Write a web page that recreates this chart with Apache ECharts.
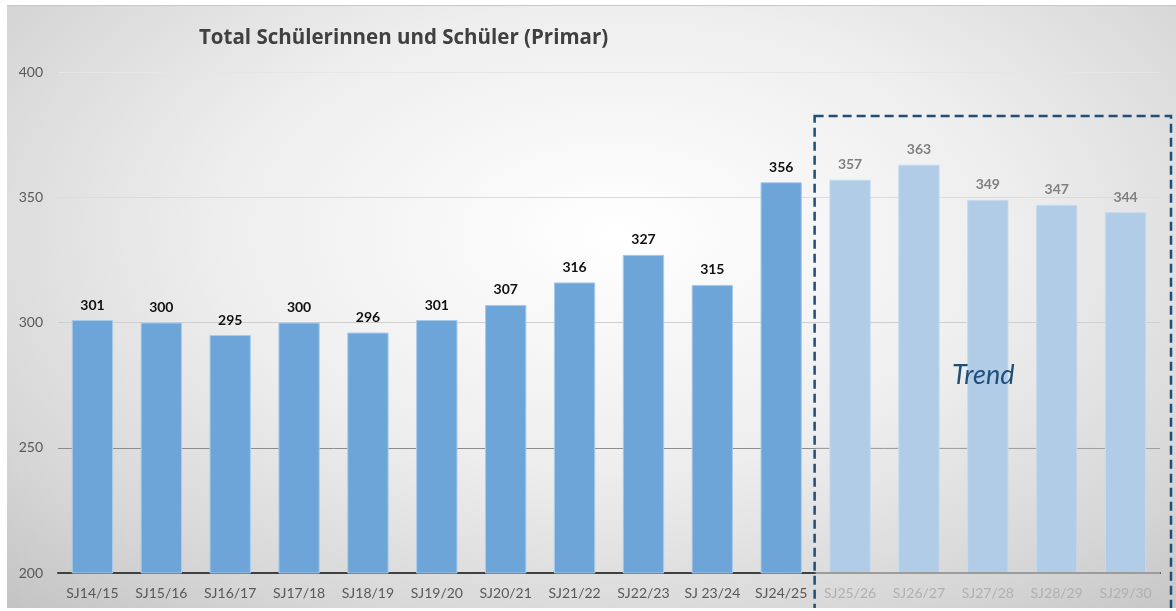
<!DOCTYPE html>
<html>
<head>
<meta charset="utf-8">
<script src="https://cdn.jsdelivr.net/npm/echarts@6/dist/echarts.min.js"></script>
<style>
  html, body { margin: 0; padding: 0; background: #fff; }
  #chart {
    position: absolute; left: 7px; top: 5px; width: 1169px; height: 603px;
    border-top: 1px solid #c8c8c8;
    box-sizing: border-box;
    background: radial-gradient(ellipse 75% 85% at 52% 38%, #ffffff 0%, #eeeeee 45%, #d6d6d6 80%, #c4c4c4 100%);
  }
</style>
</head>
<body>
<div id="chart"></div>
<script>
// Schuljahre und Werte
const years = ['SJ14/15', 'SJ15/16', 'SJ16/17', 'SJ17/18', 'SJ18/19', 'SJ19/20', 'SJ20/21', 'SJ21/22',
  'SJ22/23', 'SJ 23/24', 'SJ24/25', 'SJ25/26', 'SJ26/27', 'SJ27/28', 'SJ28/29', 'SJ29/30']
const pupils = [301, 300, 295, 300, 296, 301, 307, 316, 327, 315, 356, 357, 363, 349, 347, 344]
// ab diesem Index: Trend
const trendStart = 11
const yTicks = [200, 250, 300, 350, 400]

const font = 'Lato, "Open Sans", sans-serif'
const chart = echarts.init(document.getElementById('chart'))

const option = {
  animation: false,
  title: {
    text: 'Total Schülerinnen und Schüler (Primar)',
    left: 187, top: 17,
    textStyle: { fontFamily: '"Open Sans", sans-serif', fontSize: 20.5, fontWeight: 'bold', color: '#404040' }
  },
  grid: { left: 51, right: 16, top: 66, bottom: 35 },
  xAxis: {
    type: 'category',
    data: years,
    axisTick: { show: false },
    axisLine: { lineStyle: { color: '#404040', width: 2 } },
    axisLabel: {
      interval: 0,
      fontFamily: font, fontSize: 14, margin: 13,
      color: (v, i) => i >= trendStart ? '#b0b0b0' : '#595959'
    }
  },
  yAxis: {
    type: 'value',
    min: yTicks[0], max: yTicks[yTicks.length - 1], interval: 50,
    axisLine: { show: false },
    axisTick: { show: false },
    axisLabel: { fontFamily: font, fontSize: 14, color: '#595959', margin: 15 },
    splitLine: { lineStyle: { color: ['#d0d0d0', '#8c8c8c', '#cfcfcf', '#dcdcdc', '#e6e6e6'], width: 1 } }
  },
  series: [{
    type: 'bar',
    barCategoryGap: '40%',
    data: pupils.map((v, i) => ({
      value: v,
      itemStyle: i >= trendStart
        ? { color: '#b0cce6', borderColor: '#c6dcef', borderWidth: 1 }
        : { color: '#6ea5d8', borderColor: '#a9cbeb', borderWidth: 1 },
      label: { color: i >= trendStart ? '#808080' : '#111111' }
    })),
    label: {
      show: true, position: 'top', distance: 8,
      fontFamily: font, fontSize: 14, fontWeight: 'bold'
    },
    z: 3
  }]
}
chart.setOption(option)

// Achse im Trendbereich heller, gestrichelter Rahmen + Beschriftung
const y0 = chart.convertToPixel({ yAxisIndex: 0 }, yTicks[0])
const y250 = chart.convertToPixel({ yAxisIndex: 0 }, 250)
const xa = chart.convertToPixel({ xAxisIndex: 0 }, years[trendStart - 1])
const xb = chart.convertToPixel({ xAxisIndex: 0 }, years[trendStart])
const step = xb - xa
const xSplit = (xa + xb) / 2
const xEnd = chart.convertToPixel({ xAxisIndex: 0 }, years[years.length - 1]) + step / 2

chart.setOption({
  graphic: [
    {
      type: 'line', z: 1,
      shape: { x1: xSplit, y1: y250, x2: xEnd, y2: y250 },
      style: { stroke: '#dcdcdc', lineWidth: 1 }
    },
    {
      type: 'line', z: 10,
      shape: { x1: xSplit, y1: y0, x2: xEnd, y2: y0 },
      style: { stroke: '#9c9c9c', lineWidth: 2 }
    },
    {
      type: 'rect', z: 20,
      shape: { x: xSplit - 1, y: 110, width: 1165 - xSplit, height: 494 },
      style: { fill: 'none', stroke: '#1f4e79', lineWidth: 2.5, lineDash: [9, 5] }
    },
    {
      type: 'text', z: 20,
      left: 945, top: 356,
      style: { text: 'Trend', fill: '#1f4e79', font: 'italic 27px ' + font }
    }
  ]
})
</script>
</body>
</html>
